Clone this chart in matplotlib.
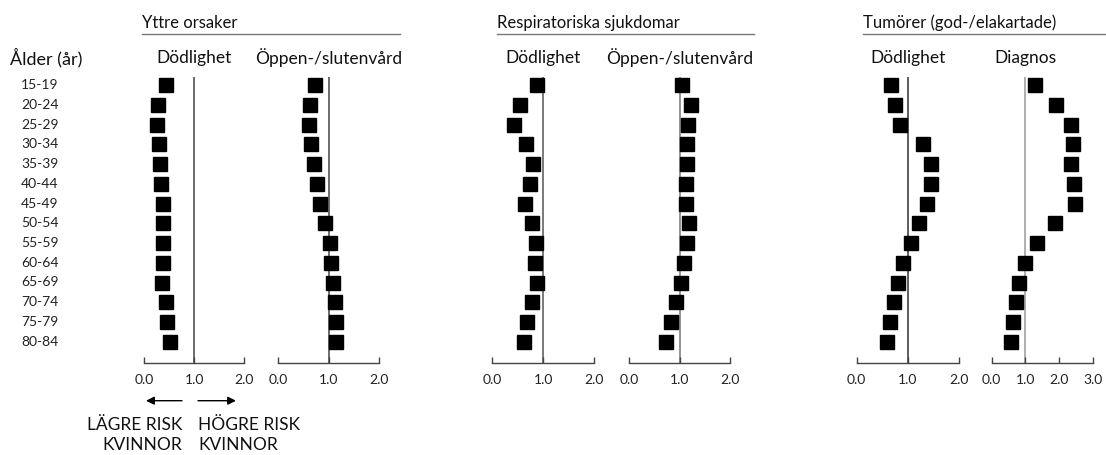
import matplotlib
matplotlib.use('Agg')
import matplotlib.pyplot as plt
from matplotlib.transforms import blended_transform_factory

plt.rcParams['font.family'] = ['Lato', 'DejaVu Sans']

# age groups, top to bottom
ages = ['15-19', '20-24', '25-29', '30-34', '35-39', '40-44', '45-49',
        '50-54', '55-59', '60-64', '65-69', '70-74', '75-79', '80-84']

# risk ratio women / men
yttre_dod = [0.44, 0.28, 0.26, 0.30, 0.32, 0.33, 0.37, 0.37, 0.37, 0.37, 0.36, 0.43, 0.45, 0.52]
yttre_vard = [0.72, 0.63, 0.60, 0.65, 0.70, 0.77, 0.83, 0.93, 1.03, 1.05, 1.08, 1.12, 1.14, 1.15]
resp_dod = [0.88, 0.55, 0.42, 0.67, 0.80, 0.73, 0.65, 0.77, 0.85, 0.83, 0.87, 0.77, 0.69, 0.62]
resp_vard = [1.05, 1.23, 1.17, 1.14, 1.14, 1.13, 1.13, 1.18, 1.15, 1.09, 1.02, 0.93, 0.82, 0.72]
tum_dod = [0.66, 0.74, 0.85, 1.30, 1.44, 1.44, 1.37, 1.22, 1.06, 0.91, 0.80, 0.73, 0.65, 0.59]
tum_diag = [1.28, 1.92, 2.35, 2.40, 2.35, 2.45, 2.46, 1.88, 1.34, 0.99, 0.80, 0.71, 0.63, 0.56]

groups = ['Yttre orsaker', 'Respiratoriska sjukdomar', 'Tumörer (god-/elakartade)']
sub_titles = ['Dödlighet', 'Öppen-/slutenvård', 'Dödlighet', 'Öppen-/slutenvård', 'Dödlighet', 'Diagnos']
series = [yttre_dod, yttre_vard, resp_dod, resp_vard, tum_dod, tum_diag]
x_max = [2, 2, 2, 2, 2, 3]

W, H = 1106, 455
fig = plt.figure(figsize=(W / 100, H / 100), dpi=100)
fig.patch.set_facecolor('white')


def fx(x):
    return x / W


def fy(y):
    return 1 - y / H


# pixel placement of each panel (left, right)
panel_px = [(144, 244.3), (278.3, 379.3), (492.3, 594.3), (629.3, 730.3), (856.7, 959.3), (991.7, 1092.7)]
line_colors = ['#444444', '#444444', '#555555', '#777777', '#333333', '#999999']
top_px, bottom_px = 77, 362.7
row0, row_step = 85, 19.75

axes = []
for i, (l, r) in enumerate(panel_px):
    ax = fig.add_axes([fx(l), fy(bottom_px), (r - l) / W, (bottom_px - top_px) / H])
    ypos = list(range(len(ages)))
    ax.plot(series[i], ypos, linestyle='none', marker='s', markersize=9.4,
            color='black', zorder=3)
    ax.axvline(1.0, color=line_colors[i], linewidth=1.1, zorder=1)
    ax.set_xlim(0, x_max[i])
    ax.set_ylim((bottom_px - row0) / row_step, -(row0 - top_px) / row_step)
    ax.set_xticks(range(x_max[i] + 1))
    ax.set_xticklabels([f'{v:.1f}' for v in range(x_max[i] + 1)], fontsize=10, color='#222222')
    ax.tick_params(axis='x', direction='in', length=4, width=1, color='#444444', pad=8)
    ax.set_yticks([])
    for s in ['top', 'left', 'right']:
        ax.spines[s].set_visible(False)
    ax.spines['bottom'].set_color('#444444')
    ax.spines['bottom'].set_linewidth(1)
    ax.patch.set_alpha(0)
    fig.text(fx(l + (r - l) / x_max[i]), fy(58), sub_titles[i], ha='center', va='center',
             fontsize=12.5, color='#111111')
    axes.append(ax)

# group headers with underline
header_px = [(142, 400), (496.7, 754.3), (863, 1105)]
for name, (l, r) in zip(groups, header_px):
    fig.text(fx(l), fy(23), name, ha='left', va='center', fontsize=12, color='#111111')
    fig.add_artist(plt.Line2D([fx(l), fx(r)], [fy(34.3), fy(34.3)], color='#777777',
                              linewidth=1, transform=fig.transFigure))

# age labels
fig.text(fx(10), fy(58), 'Ålder (år)', ha='left', va='center', fontsize=13, color='#111111')
trans = blended_transform_factory(fig.transFigure, axes[0].transData)
for k, a in enumerate(ages):
    axes[0].text(fx(21), k, a, transform=trans, ha='left', va='center', fontsize=10,
                 color='#222222', clip_on=False)

# risk arrows below first panel
fig.add_artist(matplotlib.patches.FancyArrowPatch((fx(182), fy(400.7)), (fx(146), fy(400.7)),
               transform=fig.transFigure, arrowstyle='-|>', mutation_scale=12, color='black',
               linewidth=1, shrinkA=0, shrinkB=0))
fig.add_artist(matplotlib.patches.FancyArrowPatch((fx(198), fy(400.7)), (fx(236), fy(400.7)),
               transform=fig.transFigure, arrowstyle='-|>', mutation_scale=12, color='black',
               linewidth=1, shrinkA=0, shrinkB=0))
fig.text(fx(182), fy(425), 'LÄGRE RISK', ha='right', va='center', fontsize=12.5, color='#111111')
fig.text(fx(182), fy(445), 'KVINNOR', ha='right', va='center', fontsize=12.5, color='#111111')
fig.text(fx(198), fy(425), 'HÖGRE RISK', ha='left', va='center', fontsize=12.5, color='#111111')
fig.text(fx(198), fy(445), 'KVINNOR', ha='left', va='center', fontsize=12.5, color='#111111')

fig.savefig('out.png', dpi=100, facecolor='white')
plt.close(fig)
